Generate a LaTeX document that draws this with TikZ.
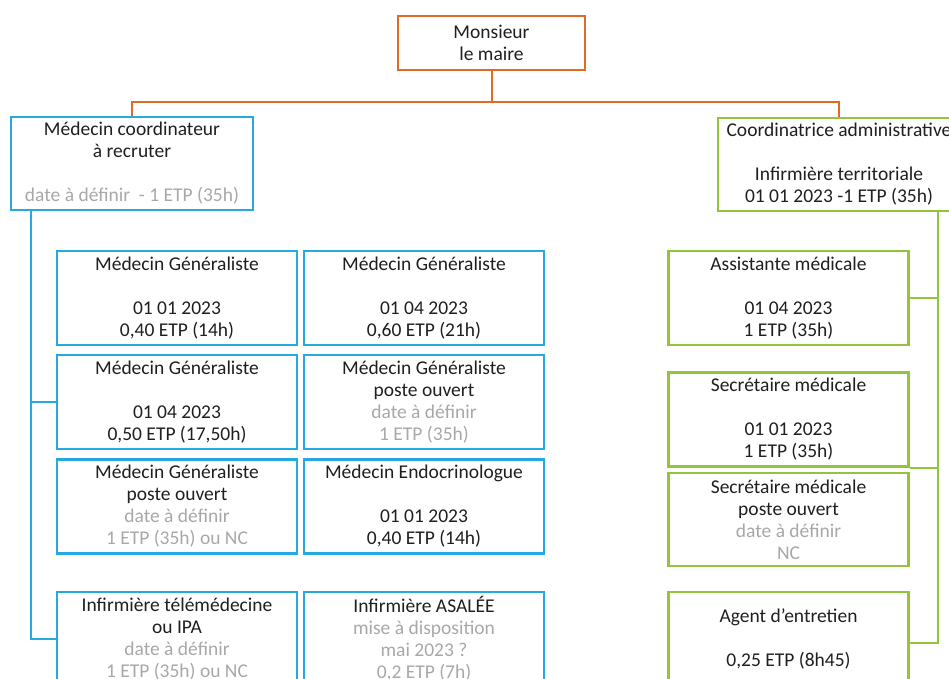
\documentclass[tikz,border=0pt]{standalone}
\usepackage{fontspec}
\setmainfont{Carlito}
\definecolor{orangeline}{RGB}{224,106,38}
\definecolor{blueline}{RGB}{38,168,224}
\definecolor{greenline}{RGB}{146,196,60}
\definecolor{pale}{RGB}{168,168,168}
\tikzset{
  post/.style={draw, line width=2.4pt, fill=white, align=center, inner sep=2pt,
    minimum width=240pt, minimum height=94pt, font=\fontsize{19.5}{22}\selectfont, text=black!88},
  maireb/.style={post, draw=orangeline, minimum width=187pt, minimum height=54pt},
  medb/.style={post, draw=blueline},
  admb/.style={post, draw=greenline},
}
\newcommand{\pale}[1]{\textcolor{pale}{#1}}
\begin{document}
\begin{tikzpicture}[x=1pt,y=-1pt]
  \useasboundingbox (0,0) rectangle (949,679);
  \clip (0,0) rectangle (949,679);
  \fill[white] (0,0) rectangle (949,679);
  \node[maireb] (maire) at (491.5,43) {Monsieur\\le maire};
  \node[medb, minimum width=242pt, minimum height=93pt] (medcoord) at (132,163.5)
    {Médecin coordinateur\\à recruter\\[22pt]\pale{date à définir\ \ - 1 ETP (35h)}};
  \node[admb, minimum width=242pt, minimum height=93pt] (coordadm) at (839,164.5)
    {Coordinatrice administrative\\[22pt]Infirmière territoriale\\01 01 2023 -1 ETP (35h)};
  \node[medb] (mg1) at (177,298) {Médecin Généraliste\\[22pt]01 01 2023\\0,40 ETP (14h)};
  \node[medb] (mg2) at (424,298) {Médecin Généraliste\\[22pt]01 04 2023\\0,60 ETP (21h)};
  \node[medb] (mg3) at (177,402) {Médecin Généraliste\\[22pt]01 04 2023\\0,50 ETP (17,50h)};
  \node[medb] (mg4) at (424,402) {Médecin Généraliste\\poste ouvert\\\pale{date à définir}\\\pale{1 ETP (35h)}};
  \node[medb] (mg5) at (177,506.5) {Médecin Généraliste\\poste ouvert\\\pale{date à définir}\\\pale{1 ETP (35h) ou NC}};
  \node[medb] (endo) at (424,506.5) {Médecin Endocrinologue\\[22pt]01 01 2023\\0,40 ETP (14h)};
  \node[medb] (inftele) at (177,639) {Infirmière télémédecine\\ou IPA\\\pale{date à définir}\\\pale{1 ETP (35h) ou NC}};
  \node[medb] (infasalee) at (424,639) {Infirmière ASALÉE\\\pale{mise à disposition}\\\pale{mai 2023 ?}\\\pale{0,2 ETP (7h)}};
  \node[admb] (assist) at (788.5,298) {Assistante médicale\\[22pt]01 04 2023\\1 ETP (35h)};
  \node[admb] (secr1) at (788.5,419.5) {Secrétaire médicale\\[22pt]01 01 2023\\1 ETP (35h)};
  \node[admb, minimum height=93pt] (secr2) at (788.5,519.5) {Secrétaire médicale\\poste ouvert\\\pale{date à définir}\\\pale{NC}};
  \node[admb] (agent) at (788.5,639) {Agent d’entretien\\[22pt]0,25 ETP (8h45)};
  \begin{scope}[line width=2pt, orangeline]
    \draw (maire.south) -- ++(0,31) coordinate (bus);
    \draw (medcoord.north) |- (bus) -| (coordadm.north);
  \end{scope}
  \begin{scope}[line width=2pt, blueline]
    \coordinate (bluetrunk) at ([xshift=21pt]medcoord.south west);
    \draw (bluetrunk) |- (inftele.west);
    \draw (mg3.west) -- (mg3.west -| bluetrunk);
  \end{scope}
  \begin{scope}[line width=2pt, greenline]
    \coordinate (greentrunk) at ([xshift=-23pt]coordadm.south east);
    \draw (greentrunk) |- ([yshift=-4pt]agent.east);
    \draw (assist.east) -- (assist.east -| greentrunk);
    \draw (secr1.south east) -- (secr1.south east -| greentrunk);
  \end{scope}
\end{tikzpicture}
\end{document}
